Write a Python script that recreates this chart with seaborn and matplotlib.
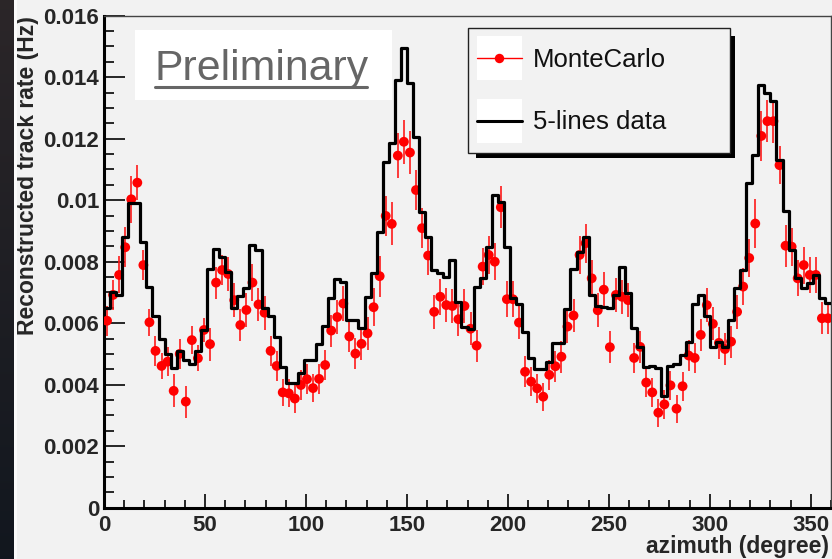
import numpy as np
import pandas as pd
import matplotlib
matplotlib.use("Agg")
import matplotlib.pyplot as plt
import seaborn as sns
from matplotlib.patches import Rectangle
from matplotlib.lines import Line2D
from matplotlib.ticker import MultipleLocator, FuncFormatter

# ---------------------------------------------------------------- data
# azimuth binning: 120 bins of 3 degrees over 0-360
n_bins = 120
azimuth_range = (0, 360)
azimuth_centers = np.arange(1.5, 360, 3)

# reconstructed track rate of the 5-lines detector data (Hz)
data_rate = [
    0.00648, 0.00702, 0.00692, 0.00881, 0.00990, 0.00990, 0.00865, 0.00719, 0.00624, 0.00549,
    0.00499, 0.00453, 0.00511, 0.00480, 0.00467, 0.00511, 0.00578, 0.00776, 0.00841, 0.00816,
    0.00768, 0.00648, 0.00688, 0.00716, 0.00854, 0.00838, 0.00650, 0.00623, 0.00556, 0.00459,
    0.00405, 0.00405, 0.00439, 0.00480, 0.00480, 0.00532, 0.00592, 0.00681, 0.00743, 0.00735,
    0.00610, 0.00610, 0.00583, 0.00686, 0.00762, 0.00898, 0.01125, 0.01185, 0.01391, 0.01494,
    0.01382, 0.01207, 0.00963, 0.00881, 0.00773, 0.00762, 0.00751, 0.00806, 0.00670, 0.00589,
    0.00580, 0.00719, 0.00746, 0.00849, 0.01017, 0.00995, 0.00849, 0.00681, 0.00662, 0.00572,
    0.00486, 0.00451, 0.00451, 0.00475, 0.00535, 0.00535, 0.00645, 0.00775, 0.00833, 0.00881,
    0.00692, 0.00657, 0.00652, 0.00648, 0.00692, 0.00784, 0.00697, 0.00583, 0.00524, 0.00459,
    0.00461, 0.00455, 0.00363, 0.00460, 0.00467, 0.00497, 0.00538, 0.00662, 0.00691, 0.00623,
    0.00522, 0.00540, 0.00522, 0.00610, 0.00715, 0.00773, 0.01055, 0.01147, 0.01375, 0.01348,
    0.01323, 0.01131, 0.00965, 0.00838, 0.00746, 0.00715, 0.00732, 0.00757, 0.00681, 0.00665,
]

# Monte Carlo expectation (Hz) and its statistical uncertainty
mc_rate = [
    0.00608, 0.00692, 0.00757, 0.00847, 0.01003, 0.01057, 0.00789, 0.00603, 0.00510, 0.00461,
    0.00475, 0.00380, 0.00500, 0.00345, 0.00545, 0.00486, 0.00578, 0.00532, 0.00732, 0.00773,
    0.00760, 0.00675, 0.00594, 0.00643, 0.00732, 0.00661, 0.00634, 0.00510, 0.00461, 0.00375,
    0.00372, 0.00355, 0.00399, 0.00418, 0.00389, 0.00419, 0.00464, 0.00576, 0.00620, 0.00664,
    0.00557, 0.00501, 0.00533, 0.00567, 0.00652, 0.00753, 0.00949, 0.00923, 0.01145, 0.01190,
    0.01155, 0.01033, 0.00909, 0.00820, 0.00637, 0.00686, 0.00659, 0.00656, 0.00613, 0.00656,
    0.00582, 0.00527, 0.00784, 0.00822, 0.00800, 0.00977, 0.00678, 0.00678, 0.00602, 0.00442,
    0.00410, 0.00388, 0.00361, 0.00432, 0.00460, 0.00491, 0.00589, 0.00625, 0.00822, 0.00860,
    0.00746, 0.00642, 0.00709, 0.00522, 0.00692, 0.00686, 0.00675, 0.00487, 0.00523, 0.00407,
    0.00375, 0.00309, 0.00336, 0.00398, 0.00322, 0.00395, 0.00495, 0.00487, 0.00562, 0.00659,
    0.00598, 0.00536, 0.00516, 0.00540, 0.00637, 0.00719, 0.00812, 0.00924, 0.01209, 0.01257,
    0.01257, 0.01114, 0.00852, 0.00849, 0.00746, 0.00789, 0.00757, 0.00757, 0.00616, 0.00616,
]

mc_error = [
    0.00049, 0.00049, 0.00060, 0.00065, 0.00076, 0.00057, 0.00049, 0.00043, 0.00049, 0.00041,
    0.00048, 0.00054, 0.00050, 0.00052, 0.00046, 0.00043, 0.00038, 0.00054, 0.00052, 0.00050,
    0.00055, 0.00055, 0.00052, 0.00055, 0.00060, 0.00055, 0.00055, 0.00050, 0.00048, 0.00045,
    0.00046, 0.00047, 0.00048, 0.00048, 0.00046, 0.00048, 0.00050, 0.00052, 0.00055, 0.00056,
    0.00052, 0.00050, 0.00052, 0.00053, 0.00062, 0.00067, 0.00065, 0.00070, 0.00073, 0.00072,
    0.00070, 0.00065, 0.00065, 0.00062, 0.00055, 0.00058, 0.00056, 0.00056, 0.00055, 0.00056,
    0.00053, 0.00052, 0.00060, 0.00062, 0.00060, 0.00068, 0.00058, 0.00058, 0.00055, 0.00050,
    0.00048, 0.00047, 0.00045, 0.00048, 0.00050, 0.00052, 0.00053, 0.00055, 0.00062, 0.00063,
    0.00060, 0.00055, 0.00058, 0.00052, 0.00056, 0.00055, 0.00055, 0.00050, 0.00052, 0.00048,
    0.00046, 0.00045, 0.00046, 0.00048, 0.00045, 0.00047, 0.00050, 0.00050, 0.00052, 0.00056,
    0.00054, 0.00052, 0.00051, 0.00052, 0.00056, 0.00060, 0.00062, 0.00081, 0.00081, 0.00068,
    0.00070, 0.00062, 0.00068, 0.00062, 0.00058, 0.00060, 0.00058, 0.00058, 0.00052, 0.00052,
]

y_tick_values = [0, 0.002, 0.004, 0.006, 0.008, 0.010, 0.012, 0.014, 0.016]
x_tick_values = [0, 50, 100, 150, 200, 250, 300, 350]

series_labels = ["MonteCarlo", "5-lines data"]

df = pd.DataFrame({
    "azimuth": azimuth_centers,
    "data": data_rate,
    "mc": mc_rate,
    "mc_err": mc_error,
})

# ---------------------------------------------------------------- style
sns.set_style("ticks")
plt.rcParams["font.family"] = ["Liberation Sans", "DejaVu Sans"]

W, H = 832, 559
CANVAS = "#f2f2f2"


def fx(px):
    return px / W


def fy(py):
    return 1 - py / H


def fig_rect(x0, y0, x1, y1, **kw):
    return Rectangle((fx(x0), fy(y1)), (x1 - x0) / W, (y1 - y0) / H,
                     transform=fig.transFigure, **kw)


fig = plt.figure(figsize=(W / 100, H / 100), dpi=100)
fig.patch.set_facecolor(CANVAS)

# dark strip along the left edge of the canvas
strip = fig.add_axes([0, 0, fx(14), 1])
grad = np.linspace(0, 1, 256)[:, None]
top_col = np.array([0.17, 0.15, 0.16])
bot_col = np.array([0.07, 0.09, 0.12])
img = (top_col[None, None, :] * (1 - grad[..., None]) + bot_col[None, None, :] * grad[..., None])
strip.imshow(img, aspect="auto", extent=[0, 1, 0, 1])
strip.set_axis_off()
fig.add_artist(fig_rect(14, 0, 16.5, H, facecolor="#fbfbfb", edgecolor="none", zorder=1))

# ---------------------------------------------------------------- main axes
ax = fig.add_axes([fx(104), fy(507.7), (831 - 104) / W, (507.7 - 15.7) / H])
ax.set_facecolor(CANVAS)

# MC points with vertical error bars
ax.errorbar(df["azimuth"], df["mc"], yerr=df["mc_err"], fmt="none",
            ecolor="#ff1a1a", elinewidth=1.2, capsize=0, zorder=2)
sns.scatterplot(data=df, x="azimuth", y="mc", color="#ff0000", s=50,
                edgecolor="none", linewidth=0, ax=ax, zorder=3, legend=False)

# data histogram as a step outline
sns.histplot(data=df, x="azimuth", weights="data", bins=n_bins, binrange=azimuth_range,
             element="step", fill=False, color="black", linewidth=2.3,
             ax=ax, zorder=4)

ax.set_xlim(0, 360)
ax.set_ylim(0, 0.016)

ax.set_xticks(x_tick_values)
ax.set_yticks(y_tick_values)
ax.xaxis.set_minor_locator(MultipleLocator(10))
ax.yaxis.set_minor_locator(MultipleLocator(0.0005))
ax.yaxis.set_major_formatter(FuncFormatter(lambda v, p: f"{v:g}"))
ax.xaxis.set_major_formatter(FuncFormatter(lambda v, p: f"{v:g}"))

ax.tick_params(axis="y", which="major", direction="in", length=15, width=1.4,
               pad=3.5, labelsize=16)
ax.tick_params(axis="y", which="minor", direction="in", length=7.5, width=1.4)
ax.tick_params(axis="x", which="major", direction="in", length=10, width=1.4,
               pad=5, labelsize=16)
ax.tick_params(axis="x", which="minor", direction="in", length=5.5, width=1.4)
for lab in ax.get_xticklabels() + ax.get_yticklabels():
    lab.set_fontweight("bold")

for side in ("left", "bottom"):
    ax.spines[side].set_linewidth(2.2)
    ax.spines[side].set_color("black")
for side in ("top", "right"):
    ax.spines[side].set_visible(True)
    ax.spines[side].set_linewidth(1.0)
    ax.spines[side].set_color("#444444")

ax.set_xlabel("azimuth (degree)", fontsize=16.5, fontweight="bold")
ax.xaxis.set_label_coords((829 - 104) / 727, -(546.7 - 507.7) / 492)
ax.xaxis.label.set_horizontalalignment("right")
ax.xaxis.label.set_verticalalignment("center")

ax.set_ylabel("Reconstructed track rate (Hz)", fontsize=16.5, fontweight="bold")
ax.yaxis.set_label_coords((28 - 104) / 727, 1 + (15.7 - 16) / 492)
ax.yaxis.label.set_horizontalalignment("right")
ax.yaxis.label.set_verticalalignment("center")

# ---------------------------------------------------------------- "Preliminary" tag
fig.add_artist(fig_rect(135, 30, 392, 100, facecolor="white", edgecolor="none", zorder=5))
fig.text(fx(155), fy(80), "Preliminary", fontsize=30.8, color="#666666",
         ha="left", va="baseline", zorder=6)
fig.add_artist(Line2D([fx(155), fx(367)], [fy(87), fy(87)], transform=fig.transFigure,
                      color="#666666", linewidth=2.2, zorder=6))

# ---------------------------------------------------------------- legend
fig.add_artist(fig_rect(476, 36, 735, 157.5, facecolor="black", edgecolor="none", zorder=5))
fig.add_artist(fig_rect(468, 28, 730, 153, facecolor=CANVAS, edgecolor="#222222",
                        linewidth=1.0, zorder=6))
fig.add_artist(fig_rect(477, 36, 522, 80, facecolor="white", edgecolor="none", zorder=7))
fig.add_artist(fig_rect(477, 99, 522, 143, facecolor="white", edgecolor="none", zorder=7))
fig.add_artist(Line2D([fx(477), fx(522)], [fy(58), fy(58)], transform=fig.transFigure,
                      color="#ff0000", linewidth=1.0, zorder=8))
fig.add_artist(Line2D([fx(499.5)], [fy(58)], transform=fig.transFigure, marker="o",
                      markersize=6.8, color="#ff0000", markeredgewidth=0, zorder=9))
fig.add_artist(Line2D([fx(477), fx(522)], [fy(121), fy(121)], transform=fig.transFigure,
                      color="black", linewidth=2.2, zorder=8))
fig.text(fx(533), fy(60), series_labels[0], fontsize=18.5, color="#111111",
         ha="left", va="center", zorder=9)
fig.text(fx(533), fy(122), series_labels[1], fontsize=18.5, color="#111111",
         ha="left", va="center", zorder=9)

fig.savefig("out.png", dpi=100, facecolor=fig.get_facecolor())
